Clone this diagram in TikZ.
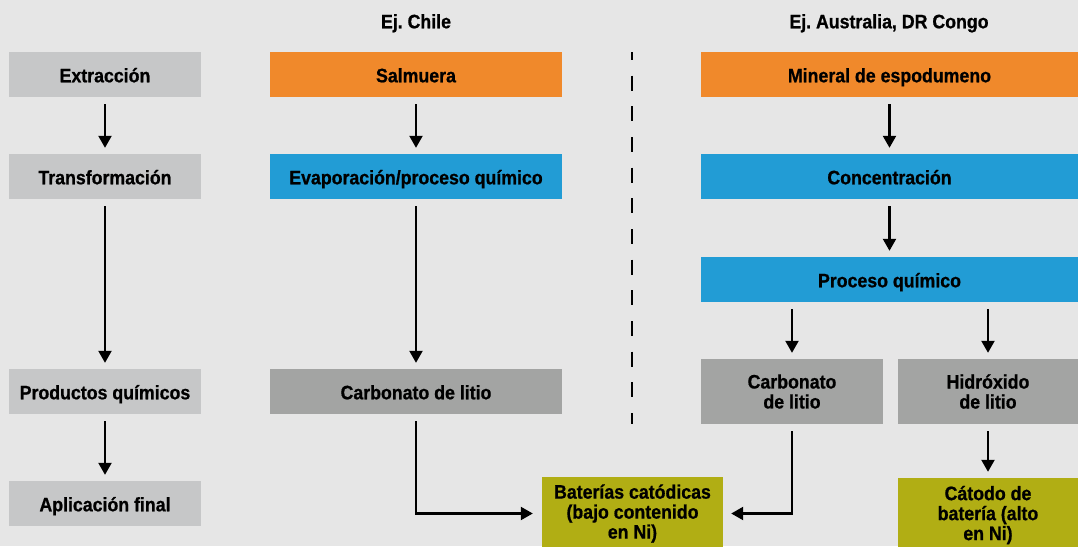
\documentclass[tikz,border=0pt]{standalone}
\usepackage{fontspec}
\setmainfont{Liberation Sans}[FakeStretch=0.91, BoldFeatures={FakeBold=0.8}]
\usetikzlibrary{arrows.meta}
\definecolor{bgc}{HTML}{E6E6E6}
\definecolor{lgray}{HTML}{C6C7C8}
\definecolor{orng}{HTML}{F0892B}
\definecolor{blu}{HTML}{229CD5}
\definecolor{mgray}{HTML}{A3A4A3}
\definecolor{oliv}{HTML}{B1AE14}
\newcommand\dlabelfont{\bfseries\fontsize{19.5}{20}\selectfont}
\frenchspacing
\begin{document}
\begin{tikzpicture}[x=1pt,y=-1pt,
  box/.style={inner sep=0pt, minimum height=45pt, text height=15.6pt, text depth=0pt, font=\dlabelfont},
  mbox/.style={inner sep=0pt, align=center, font=\dlabelfont},
  head/.style={inner sep=0pt, anchor=base, font=\dlabelfont},
  arr/.style={line width=2.2pt, -{Triangle[length=12pt,width=13pt]}, shorten <=7pt, shorten >=6pt},
  sep/.style={line width=2.7pt, dash pattern=on 15pt off 15.67pt, dash phase=7pt}]
\fill[bgc] (0,0) rectangle (1078,546);
\useasboundingbox (0,0) rectangle (1078,546);

% headers
\node[head] (hchile) at (416,28.3) {Ej. Chile};
\node[head] (haus) at (889,28.3) {Ej. Australia, DR Congo};

% left column
\node[box, fill=lgray, minimum width=192pt] (ext) at (105,74.5) {Extracción};
\node[box, fill=lgray, minimum width=192pt] (tra) at (105,176.5) {Transformación};
\node[box, fill=lgray, minimum width=192pt] (prod) at (105,391.5) {Productos químicos};
\node[box, fill=lgray, minimum width=192pt] (apl) at (105,503.5) {Aplicación final};

% Chile column
\node[box, fill=orng, minimum width=292pt] (sal) at (416,74.5) {Salmuera};
\node[box, fill=blu, minimum width=292pt] (eva) at (416,176.5) {Evaporación/proceso químico};
\node[box, fill=mgray, minimum width=292pt] (carbc) at (416,391.5) {Carbonato de litio};

% separator
\coordinate (dtop) at (632,52);
\coordinate (dbot) at (632,424);
\draw[sep] (dtop) -- (dbot);

% Australia column
\node[box, fill=orng, minimum width=377pt] (min) at (889.5,74.5) {Mineral de espodumeno};
\node[box, fill=blu, minimum width=377pt] (con) at (889.5,176.5) {Concentración};
\node[box, fill=blu, minimum width=377pt] (pro) at (889.5,279.5) {Proceso químico};
\node[mbox, fill=mgray, minimum width=182pt, minimum height=65pt] (carbr) at (792,391.5) {Carbonato\\de litio};
\node[mbox, fill=mgray, minimum width=180pt, minimum height=65pt] (hid) at (988,391.5) {Hidróxido\\de litio};

% applications
\node[mbox, fill=oliv, minimum width=181pt, minimum height=74pt] (bat) at (632.5,513.5) {Baterías catódicas\\(bajo contenido\\en Ni)};
\node[mbox, fill=oliv, minimum width=180pt, minimum height=74pt] (cat) at (988,515) {Cátodo de\\batería (alto\\en Ni)};

% arrows
\draw[arr] (ext) -- (tra);
\draw[arr] (tra) -- (prod);
\draw[arr] (prod) -- (apl);
\draw[arr] (sal) -- (eva);
\draw[arr] (eva) -- (carbc);
\draw[arr] (min.south) -- (min.south |- con.north);
\draw[arr] (con.south) -- (con.south |- pro.north);
\draw[arr] (pro.south -| carbr.north) -- (carbr.north);
\draw[arr] (pro.south -| hid.north) -- (hid.north);
\draw[arr] (hid) -- (cat);
\draw[arr, shorten >=9pt] (carbc.south) |- (bat.west);
\draw[arr, shorten >=8pt] (carbr.south) |- (bat.east);
\end{tikzpicture}
\end{document}
